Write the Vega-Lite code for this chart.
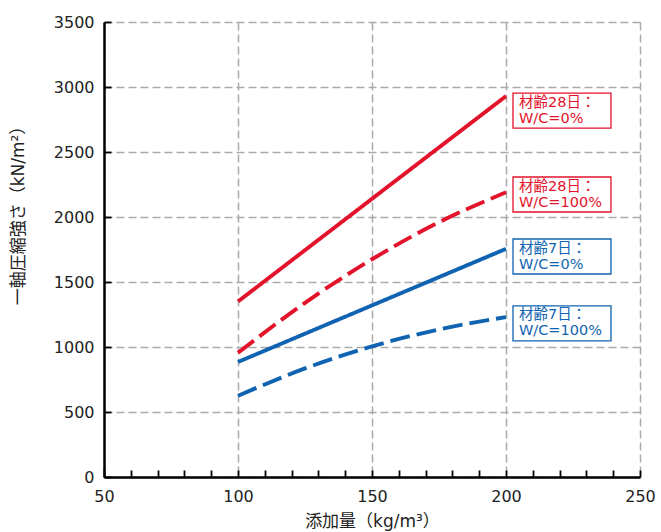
{
  "$schema": "https://vega.github.io/schema/vega-lite/v6.json",
  "width": 536,
  "height": 455,
  "autosize": {"type": "none"},
  "padding": {"left": 104, "top": 22, "right": 21, "bottom": 55},
  "background": "white",
  "config": {"view": {"stroke": null}, "font": "DejaVu Sans, Noto Sans CJK JP"},
  "datasets": {
    "lines": [
      {"age": "材齢28日", "wc": "0%", "dose": 100, "strength": 1350},
      {"age": "材齢28日", "wc": "0%", "dose": 150, "strength": 2140},
      {"age": "材齢28日", "wc": "0%", "dose": 200, "strength": 2930},
      {"age": "材齢28日", "wc": "100%", "dose": 100, "strength": 955},
      {"age": "材齢28日", "wc": "100%", "dose": 125, "strength": 1340},
      {"age": "材齢28日", "wc": "100%", "dose": 150, "strength": 1675},
      {"age": "材齢28日", "wc": "100%", "dose": 175, "strength": 1960},
      {"age": "材齢28日", "wc": "100%", "dose": 200, "strength": 2190},
      {"age": "材齢7日", "wc": "0%", "dose": 100, "strength": 885},
      {"age": "材齢7日", "wc": "0%", "dose": 150, "strength": 1320},
      {"age": "材齢7日", "wc": "0%", "dose": 200, "strength": 1755},
      {"age": "材齢7日", "wc": "100%", "dose": 100, "strength": 625},
      {"age": "材齢7日", "wc": "100%", "dose": 125, "strength": 835},
      {"age": "材齢7日", "wc": "100%", "dose": 150, "strength": 1005},
      {"age": "材齢7日", "wc": "100%", "dose": 175, "strength": 1135},
      {"age": "材齢7日", "wc": "100%", "dose": 200, "strength": 1230}
    ],
    "labels": [
      {"age": "材齢28日", "wc": "0%", "dose": 200, "ly": 2819, "line1": "材齢28日：", "line2": "W/C=0%"},
      {"age": "材齢28日", "wc": "100%", "dose": 200, "ly": 2173, "line1": "材齢28日：", "line2": "W/C=100%"},
      {"age": "材齢7日", "wc": "0%", "dose": 200, "ly": 1696, "line1": "材齢7日：", "line2": "W/C=0%"},
      {"age": "材齢7日", "wc": "100%", "dose": 200, "ly": 1181, "line1": "材齢7日：", "line2": "W/C=100%"}
    ]
  },
  "layer": [
    {
      "data": {"name": "lines"},
      "mark": {"type": "line", "strokeWidth": 3.9, "interpolate": "monotone"},
      "encoding": {
        "x": {
          "field": "dose", "type": "quantitative",
          "scale": {"domain": [50, 250], "nice": false, "zero": false},
          "axis": {
            "values": [50, 60, 70, 80, 90, 100, 110, 120, 130, 140, 150, 160, 170, 180, 190, 200, 210, 220, 230, 240, 250],
            "tickCount": 40,
            "labelExpr": "datum.value % 50 === 0 ? datum.label : ''",
            "title": "添加量（kg/m³）",
            "titleFontSize": 17, "titleFontWeight": "normal", "titleColor": "#222",
            "titleBaseline": "middle", "titleY": 44,
            "labelFontSize": 16, "labelColor": "#222", "labelPadding": 18,
            "labelFlush": false, "labelOverlap": false,
            "domainColor": "#000", "domainWidth": 2.5,
            "tickColor": "#000", "tickWidth": 1.8, "tickSize": -7,
            "grid": true, "gridColor": "#aaaaaa", "gridDash": [8, 4], "gridWidth": 1.5,
            "gridOpacity": {"condition": {"test": "datum.value % 50 === 0", "value": 1}, "value": 0}
          }
        },
        "y": {
          "field": "strength", "type": "quantitative",
          "scale": {"domain": [0, 3500], "nice": false},
          "axis": {
            "values": [0, 500, 1000, 1500, 2000, 2500, 3000, 3500],
            "format": "d",
            "title": "一軸圧縮強さ（kN/m²）",
            "titleFontSize": 17, "titleFontWeight": "normal", "titleColor": "#222",
            "titleAngle": -90, "titleBaseline": "middle", "titleAlign": "center",
            "titleX": -86, "titleY": 189,
            "labelFontSize": 16, "labelColor": "#222", "labelPadding": 17,
            "labelFlush": false, "labelOverlap": false,
            "domainColor": "#000", "domainWidth": 2.5,
            "tickColor": "#000", "tickWidth": 1.8, "tickSize": -7,
            "grid": true, "gridColor": "#aaaaaa", "gridDash": [8, 4], "gridWidth": 1.5
          }
        },
        "color": {"field": "age", "type": "nominal", "scale": {"domain": ["材齢28日", "材齢7日"], "range": ["#e3132b", "#0f63b0"]}, "legend": null},
        "strokeDash": {"field": "wc", "type": "nominal", "scale": {"domain": ["0%", "100%"], "range": [[1, 0], [20, 7]]}, "legend": null}
      }
    },
    {
      "data": {"name": "labels"},
      "mark": {"type": "rect", "width": 98, "height": 35, "xOffset": 56, "fill": "white", "strokeWidth": 1.3},
      "encoding": {
        "x": {"field": "dose", "type": "quantitative"},
        "y": {"field": "ly", "type": "quantitative"},
        "stroke": {"field": "age", "type": "nominal", "scale": {"domain": ["材齢28日", "材齢7日"], "range": ["#e3132b", "#0f63b0"]}, "legend": null}
      }
    },
    {
      "data": {"name": "labels"},
      "mark": {"type": "text", "align": "left", "baseline": "middle", "xOffset": 13, "yOffset": -8, "fontSize": 14.5},
      "encoding": {
        "x": {"field": "dose", "type": "quantitative"},
        "y": {"field": "ly", "type": "quantitative"},
        "text": {"field": "line1"},
        "color": {"field": "age", "type": "nominal", "scale": {"domain": ["材齢28日", "材齢7日"], "range": ["#e3132b", "#0f63b0"]}, "legend": null}
      }
    },
    {
      "data": {"name": "labels"},
      "mark": {"type": "text", "align": "left", "baseline": "middle", "xOffset": 13, "yOffset": 8, "fontSize": 14.5},
      "encoding": {
        "x": {"field": "dose", "type": "quantitative"},
        "y": {"field": "ly", "type": "quantitative"},
        "text": {"field": "line2"},
        "color": {"field": "age", "type": "nominal", "scale": {"domain": ["材齢28日", "材齢7日"], "range": ["#e3132b", "#0f63b0"]}, "legend": null}
      }
    }
  ]
}
